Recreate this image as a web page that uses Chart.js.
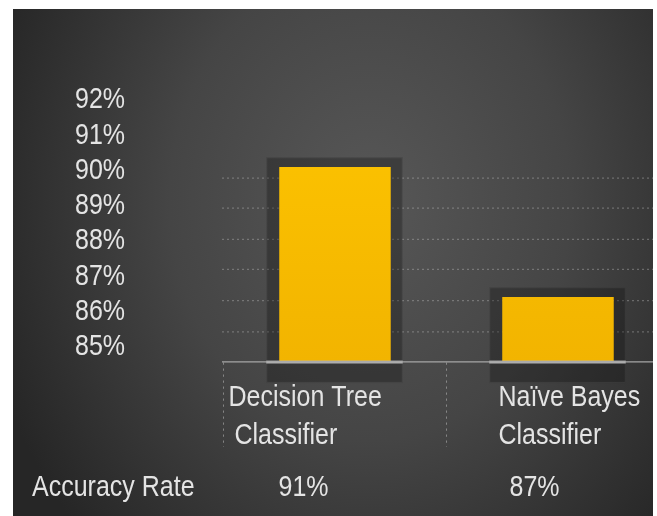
<!DOCTYPE html>
<html>
<head>
<meta charset="utf-8">
<script src="https://cdn.jsdelivr.net/npm/chart.js@4/dist/chart.umd.min.js"></script>
<style>
  html, body { margin: 0; padding: 0; background: #ffffff; overflow: hidden; }
  canvas { display: block; }
</style>
</head>
<body>
<canvas id="chart" width="657" height="430"></canvas>
<script>
// Classifier names (two lines each), their accuracy and the left-hand tick labels
const categories = [['Decision Tree', 'Classifier'], ['Naïve Bayes', 'Classifier']];
const accuracy = [91, 87];
const rowLabel = 'Accuracy Rate';
const yTickValues = [85, 86, 87, 88, 89, 90, 91, 92];
const gridSteps = [1, 2, 3, 4, 5, 6];
const columnEdges = [-0.5, 0.5];

const FONT = "'Liberation Sans', Arial, Helvetica, sans-serif";
const TEXT = '#e4e4e4';

// the slide is laid out 430px high and shown on a 516px bitmap (tall lettering)
const LOGICAL_H = 430;
const SHOWN_H = 516;

// dark slide panel with a soft radial light
const backdrop = {
  id: 'backdrop',
  beforeDraw(chart) {
    const { ctx, width, height } = chart;
    ctx.save();
    ctx.fillStyle = '#ffffff';
    ctx.fillRect(0, 0, width, height);
    const g = ctx.createRadialGradient(370, 167, 0, 370, 167, 400);
    g.addColorStop(0, '#575757');
    g.addColorStop(0.5, '#454545');
    g.addColorStop(1, '#262626');
    ctx.fillStyle = g;
    ctx.fillRect(13, 7.5, 640, height - 7.5);
    ctx.restore();
  },
  afterDraw(chart) {
    const { ctx, width, height } = chart;
    ctx.save();
    ctx.fillStyle = '#ffffff';
    ctx.fillRect(653, 0, width - 653, height);
    ctx.restore();
  }
};

// recessed frame behind each bar and the bright strip at its base
const barFrames = {
  id: 'barFrames',
  frame(chart, bar) {
    const { x, y, width } = bar.getProps(['x', 'y', 'width'], true);
    const base = chart.scales.y.bottom;
    return { l: x - width / 2 - 13, r: x + width / 2 + 12, t: y - 8.3, b: base + 17.5, base };
  },
  beforeDatasetsDraw(chart) {
    const { ctx } = chart;
    ctx.save();
    chart.getDatasetMeta(0).data.forEach(bar => {
      const f = this.frame(chart, bar);
      ctx.fillStyle = 'rgba(10,10,10,0.3)';
      ctx.fillRect(f.l, f.t, f.r - f.l, f.b - f.t);
      ctx.strokeStyle = 'rgba(255,255,255,0.07)';
      ctx.lineWidth = 1;
      ctx.strokeRect(f.l + 0.5, f.t + 0.5, f.r - f.l - 1, f.b - f.t - 1);
    });
    ctx.restore();
  },
  afterDatasetsDraw(chart) {
    const { ctx } = chart;
    ctx.save();
    chart.getDatasetMeta(0).data.forEach(bar => {
      const f = this.frame(chart, bar);
      ctx.fillStyle = '#b4b4b4';
      ctx.fillRect(f.l, f.base - 1.2, f.r - f.l, 2.4);
    });
    ctx.restore();
  }
};

// category names under the axis and the accuracy row
const tableText = {
  id: 'tableText',
  afterDraw(chart) {
    const { ctx } = chart;
    const xs = chart.scales.x;
    const band = xs.getPixelForValue(1) - xs.getPixelForValue(0);
    const lineIndent = [[5, 11], [52, 52]];
    const valueIndent = [55, 63];
    ctx.save();
    ctx.font = '25px ' + FONT;
    ctx.fillStyle = TEXT;
    ctx.textAlign = 'left';
    ctx.textBaseline = 'alphabetic';
    categories.forEach((lines, i) => {
      const left = xs.getPixelForValue(i) - band / 2;
      lines.forEach((s, k) => ctx.fillText(s, left + lineIndent[i][k], xs.top + 36.7 + k * 31.7));
      ctx.fillText(accuracy[i] + '%', left + valueIndent[i], xs.top + 111.7);
    });
    ctx.fillText(rowLabel, 32, xs.top + 111.7);
    ctx.restore();
  }
};

const canvas = document.getElementById('chart');
const chart = new Chart(canvas, {
  type: 'bar',
  data: {
    datasets: [{
      data: accuracy.map((v, i) => ({ x: i, y: v })),
      xAxisID: 'x',
      yAxisID: 'y',
      barPercentage: 1,
      categoryPercentage: 0.5,
      borderWidth: 0,
      backgroundColor(context) {
        const area = context.chart.chartArea;
        if (!area) return '#FFC000';
        const g = context.chart.ctx.createLinearGradient(0, area.top, 0, area.bottom);
        g.addColorStop(0, '#FFC700');
        g.addColorStop(1, '#F2B400');
        return g;
      }
    }]
  },
  options: {
    responsive: false,
    animation: false,
    devicePixelRatio: 1,
    layout: { padding: { left: 75, right: 0, top: 50, bottom: 0 } },
    plugins: { legend: { display: false }, tooltip: { enabled: false } },
    scales: {
      x: {
        type: 'linear',
        offset: false,
        bounds: 'data',
        grace: 0,
        min: -0.5067,
        max: 1.444,
        afterBuildTicks(s) { s.ticks = columnEdges.map(v => ({ value: v })); },
        grid: {
          display: true, offset: false, drawOnChartArea: false, drawTicks: true,
          tickLength: 70.8, tickColor: 'rgba(190,190,190,0.55)', tickWidth: 1, tickBorderDash: [2, 3]
        },
        border: { display: true, color: '#a6a6a6', width: 1, z: 1 },
        ticks: { display: false },
        afterFit(s) { s.height = 128.3; }
      },
      y: {
        display: false,
        min: 85,
        max: 94.2923
      },
      yLabels: {
        position: 'left',
        min: 84.566,
        max: 93.135,
        grid: { display: false, drawTicks: false },
        border: { display: false },
        afterBuildTicks(s) { s.ticks = yTickValues.map(v => ({ value: v })); },
        ticks: {
          autoSkip: false,
          padding: 0,
          crossAlign: 'far',
          color: TEXT,
          font: { family: FONT, size: 25 },
          callback: v => v + '%'
        },
        afterFit(s) { s.width = 147; }
      },
      yGrid: {
        position: 'right',
        min: 0,
        max: 9.837,
        afterBuildTicks(s) { s.ticks = gridSteps.map(v => ({ value: v })); },
        grid: { display: true, drawTicks: false, color: 'rgba(200,200,200,0.35)', lineWidth: 1 },
        border: { display: false, dash: [2, 3] },
        ticks: { display: false },
        afterFit(s) { s.width = 0; }
      }
    }
  },
  plugins: [backdrop, barFrames, tableText]
});

// enlarge the bitmap and repaint the same layout stretched to full height
canvas.height = SHOWN_H;
canvas.style.height = SHOWN_H + 'px';
chart.ctx.setTransform(1, 0, 0, SHOWN_H / LOGICAL_H, 0, 0);
chart.draw();
</script>
</body>
</html>
